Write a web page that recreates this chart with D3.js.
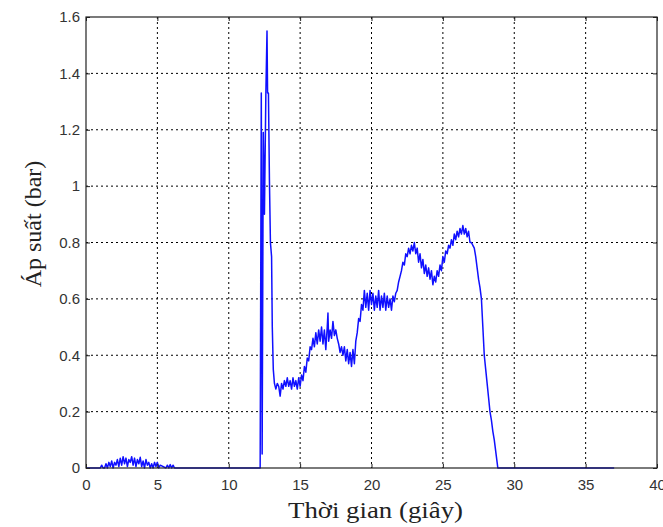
<!DOCTYPE html>
<html>
<head>
<meta charset="utf-8">
<script src="https://cdn.jsdelivr.net/npm/d3@7"></script>
<style>
  body { margin: 0; background: #fff; }
  .tick text { font-family: "Liberation Sans", Arial, sans-serif; font-size: 15px; fill: #333; }
  .grid line { stroke: #000; stroke-dasharray: 2,3; stroke-width: 1; }
  .title { font-family: "Liberation Serif", "Times New Roman", serif; font-size: 24px; fill: #222; }
</style>
</head>
<body>
<div id="container"></div>
<script>
const width = 663;
const height = 527;
const margin = {top: 17, right: 6, bottom: 59, left: 86};

// tick values
const xTicks = [0, 5, 10, 15, 20, 25, 30, 35, 40];
const yTicks = [0, 0.2, 0.4, 0.6, 0.8, 1, 1.2, 1.4, 1.6];

// time (s) and pressure (bar)
const timeSec = [
  0, 1.0, 1.1, 1.2, 1.3, 1.4, 1.5, 1.6, 1.7, 1.8, 1.9,
  2.0, 2.1, 2.2, 2.3, 2.4, 2.5, 2.6, 2.7, 2.8, 2.9,
  3.0, 3.1, 3.2, 3.3, 3.4, 3.5, 3.6, 3.7, 3.8, 3.9,
  4.0, 4.1, 4.2, 4.3, 4.4, 4.5, 4.6, 4.7, 4.8, 4.9,
  5.0, 5.1, 5.2, 5.6, 5.7, 5.8, 5.9, 6.0, 6.1, 6.2,
  12.2, 12.28, 12.34, 12.42, 12.5, 12.6, 12.68, 12.72, 12.78, 12.85, 12.92, 13.0, 13.05, 13.12, 13.2,
  13.3, 13.4, 13.5, 13.6, 13.7, 13.8, 13.9,
  14.0, 14.1, 14.2, 14.3, 14.4, 14.5, 14.6, 14.7, 14.8, 14.9,
  15.0, 15.1, 15.2, 15.3, 15.4, 15.5, 15.6, 15.7, 15.8, 15.9,
  16.0, 16.1, 16.2, 16.3, 16.4, 16.5, 16.6, 16.7, 16.8, 16.9, 16.95,
  17.0, 17.1, 17.2, 17.3, 17.4, 17.5, 17.6, 17.7, 17.8, 17.9,
  18.0, 18.1, 18.2, 18.3, 18.4, 18.5, 18.6, 18.7, 18.8, 18.9,
  19.0, 19.1, 19.2, 19.3, 19.4, 19.5, 19.6, 19.7, 19.8, 19.9,
  20.0, 20.1, 20.2, 20.3, 20.4, 20.5, 20.6, 20.7, 20.8, 20.9,
  21.0, 21.1, 21.2, 21.3, 21.4, 21.5, 21.6, 21.7, 21.8, 21.9,
  22.0, 22.1, 22.2, 22.3, 22.4, 22.5, 22.6, 22.7, 22.8, 22.9,
  23.0, 23.1, 23.2, 23.3, 23.4, 23.5, 23.6, 23.7, 23.8, 23.9,
  24.0, 24.1, 24.2, 24.3, 24.4, 24.5, 24.6, 24.7, 24.8, 24.9,
  25.0, 25.1, 25.2, 25.3, 25.4, 25.5, 25.6, 25.7, 25.8, 25.9,
  26.0, 26.1, 26.2, 26.3, 26.4, 26.5, 26.6, 26.7, 26.8, 26.9,
  27.0, 27.1, 27.2, 27.3, 27.4, 27.5, 27.6, 27.7, 27.8, 27.9,
  28.0, 28.1, 28.2, 28.3, 28.4, 28.5, 28.6, 28.7, 28.8, 28.85,
  37.0
];
const pressureBar = [
  0, 0, 0.01, 0, 0, 0.015, 0, 0.02, 0.005, 0.025, 0,
  0.02, 0.01, 0.03, 0.005, 0.035, 0.01, 0.04, 0.015, 0.035, 0.005,
  0.03, 0.02, 0.04, 0.01, 0.035, 0.005, 0.03, 0.015, 0.038, 0.005,
  0.025, 0, 0.03, 0.01, 0.02, 0, 0.015, 0, 0.02, 0.005,
  0.02, 0, 0.01, 0, 0.01, 0, 0.012, 0, 0.01, 0,
  0, 1.33, 0.05, 1.19, 0.9, 1.33, 1.55, 1.33, 1.33, 1.02, 0.8, 0.75, 0.5, 0.35, 0.3,
  0.28, 0.30, 0.29, 0.255, 0.3, 0.28, 0.31,
  0.29, 0.32, 0.29, 0.31, 0.28, 0.32, 0.29, 0.31, 0.28, 0.32,
  0.29, 0.33, 0.31, 0.36, 0.34, 0.39, 0.38, 0.43, 0.42, 0.46,
  0.43, 0.48, 0.44, 0.49, 0.45, 0.5, 0.44, 0.49, 0.42, 0.5, 0.55,
  0.45, 0.49, 0.46, 0.52, 0.47, 0.49, 0.46, 0.44, 0.41, 0.43,
  0.4, 0.43, 0.38, 0.42, 0.37, 0.41, 0.36, 0.42, 0.37, 0.45,
  0.48, 0.53, 0.52, 0.58, 0.56, 0.63, 0.57, 0.62, 0.56, 0.63,
  0.58, 0.62, 0.56, 0.61, 0.57, 0.63, 0.56, 0.61, 0.57, 0.62,
  0.56, 0.61, 0.57, 0.6, 0.56, 0.61, 0.59, 0.62, 0.63, 0.66,
  0.68, 0.7, 0.73, 0.72, 0.76, 0.75, 0.78, 0.76, 0.79, 0.77,
  0.8, 0.76, 0.78, 0.73, 0.76, 0.71, 0.74, 0.69, 0.72, 0.68,
  0.71, 0.67, 0.7, 0.65, 0.68, 0.66, 0.7, 0.68, 0.72, 0.7,
  0.75, 0.73, 0.77, 0.76, 0.79, 0.78, 0.81, 0.79, 0.83, 0.81,
  0.84, 0.82, 0.85, 0.83, 0.86, 0.83, 0.85, 0.82, 0.84, 0.8,
  0.8, 0.79, 0.78, 0.75, 0.71, 0.67, 0.64, 0.6, 0.5, 0.4,
  0.35, 0.3, 0.25, 0.2, 0.17, 0.13, 0.1, 0.06, 0.02, 0,
  0
];

const innerW = width - margin.left - margin.right;
const innerH = height - margin.top - margin.bottom;

const x = d3.scaleLinear().domain([0, 40]).range([0, innerW]);
const y = d3.scaleLinear().domain([0, 1.6]).range([innerH, 0]);

let svg = d3.select("#container")
  .append("svg")
  .attr("width", width)
  .attr("height", height)
  .append("g")
  .attr("transform", "translate(" + margin.left + "," + margin.top + ")");

// dotted grid
svg.append("g").attr("class", "grid")
  .selectAll("line")
  .data(xTicks.slice(1, -1))
  .enter().append("line")
  .attr("x1", d => x(d)).attr("x2", d => x(d))
  .attr("y1", 0).attr("y2", innerH);
svg.append("g").attr("class", "grid")
  .selectAll("line")
  .data(yTicks.slice(1, -1))
  .enter().append("line")
  .attr("y1", d => y(d)).attr("y2", d => y(d))
  .attr("x1", 0).attr("x2", innerW);

// the curve
const data = timeSec.map((t, i) => [t, pressureBar[i]]);
svg.append("path")
  .datum(data)
  .attr("fill", "none")
  .attr("stroke", "#1010ff")
  .attr("stroke-width", 1.5)
  .attr("stroke-linejoin", "round")
  .attr("d", d3.line().x(d => x(d[0])).y(d => y(d[1])));

// axes with inward ticks, matlab style
const fmt = d => d3.format("~g")(d);
svg.append("g")
  .attr("transform", "translate(0," + innerH + ")")
  .call(d3.axisBottom(x).tickValues(xTicks).tickFormat(fmt).tickSizeInner(-4).tickSizeOuter(0).tickPadding(11))
  .call(g => g.select(".domain").remove());
svg.append("g")
  .call(d3.axisLeft(y).tickValues(yTicks).tickFormat(fmt).tickSizeInner(-4).tickSizeOuter(0).tickPadding(6))
  .call(g => g.select(".domain").remove());
svg.append("g")
  .call(d3.axisTop(x).tickValues(xTicks).tickFormat("").tickSizeInner(-4).tickSizeOuter(0))
  .call(g => g.select(".domain").remove());
svg.append("g")
  .attr("transform", "translate(" + innerW + ",0)")
  .call(d3.axisRight(y).tickValues(yTicks).tickFormat("").tickSizeInner(-4).tickSizeOuter(0))
  .call(g => g.select(".domain").remove());
svg.selectAll(".tick line").attr("stroke", "#222");

// frame
svg.append("rect")
  .attr("width", innerW).attr("height", innerH)
  .attr("fill", "none").attr("stroke", "#222").attr("stroke-width", 1.2);

// titles
svg.append("text").attr("class", "title")
  .attr("x", 202).attr("y", innerH + 50)
  .attr("textLength", 175)
  .attr("lengthAdjust", "spacingAndGlyphs")
  .text("Thời gian (giây)");
svg.append("text").attr("class", "title")
  .attr("transform", "translate(-45,207) rotate(-90)")
  .attr("text-anchor", "middle")
  .text("Áp suất (bar)");
</script>
</body>
</html>
